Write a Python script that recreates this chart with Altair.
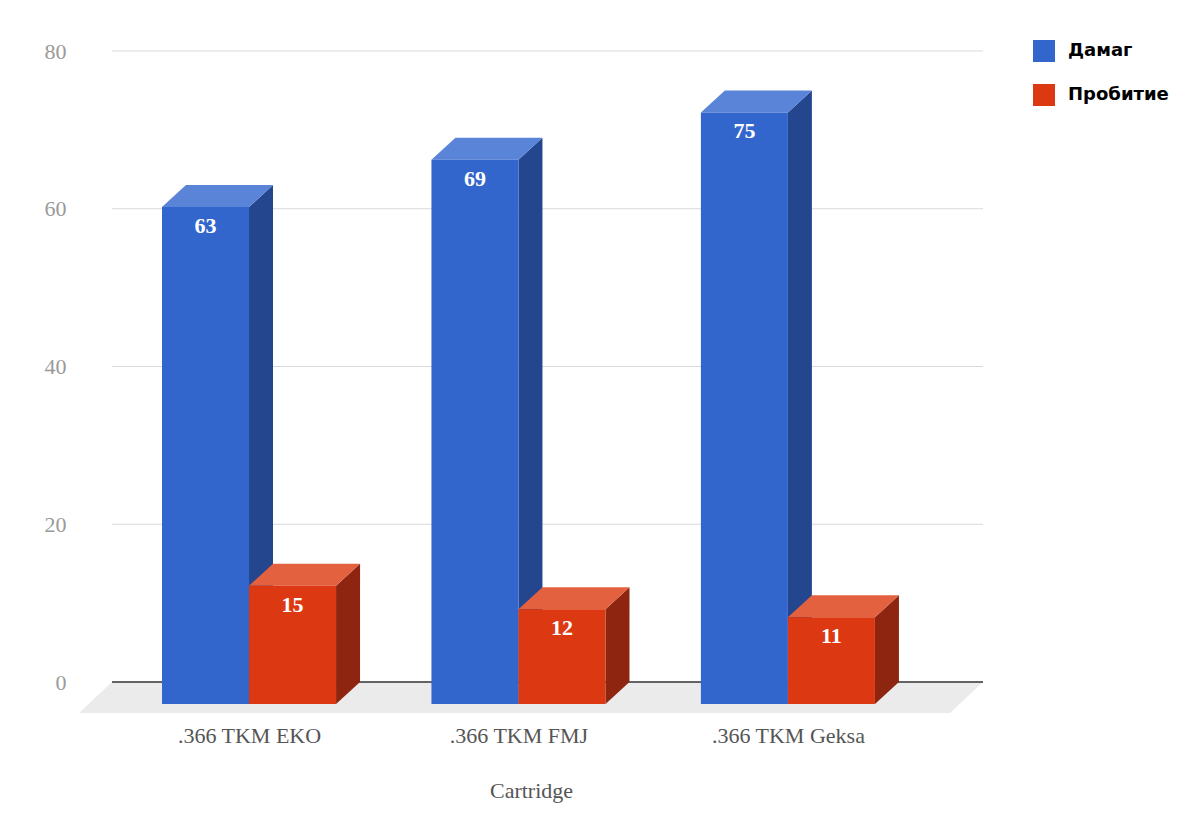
import json
import altair as alt
import pandas as pd

# ---------------- data ----------------
categories = [".366 TKM EKO", ".366 TKM FMJ", ".366 TKM Geksa"]
series = ["Дамаг", "Пробитие"]
damage = [63, 69, 75]
penetration = [15, 12, 11]
y_ticks = [0, 20, 40, 60, 80]
grid_ticks = [20, 40, 60, 80]

# ---------------- style ----------------
FRONT = ["#3366cc", "#dc3912"]
TOP = ["#5a84d8", "#e3613f"]
SIDE = ["#23468f", "#8d2510"]
FLOOR = "#ebebeb"
SERIF = "Liberation Serif"

# 3D geometry (x in group units, y in value units)
BAR_W = 0.323
DX, DY = 0.089, 2.79          # bar depth
FDX = 0.1225                  # floor depth (x)
XMIN, XMAX = -0.631, 2.724
YMIN, YMAX = -3.93, 80

values_by_series = [damage, penetration]

side_rows, top_rows, front_rows = [], [], []
for i, cat in enumerate(categories):
    for j, s in enumerate(series):
        v = values_by_series[j][i]
        a = i - BAR_W if j == 0 else i
        b = a + BAR_W
        bid = f"{cat}-{s}"
        side_rows += [
            {"bar": bid, "x": b, "y": v - DY, "y2": -DY, "c": SIDE[j]},
            {"bar": bid, "x": b + DX, "y": v, "y2": 0, "c": SIDE[j]},
        ]
        top_rows += [
            {"bar": bid, "y": v - DY, "x": a, "x2": b, "c": TOP[j]},
            {"bar": bid, "y": v, "x": a + DX, "x2": b + DX, "c": TOP[j]},
        ]
        front_rows.append({"bar": bid, "series": s, "x": a, "x2": b, "y": -DY,
                           "y2": v - DY, "xc": (a + b) / 2, "label": str(v)})

side_df = pd.DataFrame(side_rows)
top_df = pd.DataFrame(top_rows)
front_df = pd.DataFrame(front_rows)
floor_df = pd.DataFrame([
    {"y": YMIN, "x": XMIN, "x2": XMAX - FDX},
    {"y": 0, "x": XMIN + FDX, "x2": XMAX},
])
grid_df = pd.DataFrame({"v": grid_ticks, "x": XMIN + FDX, "x2": XMAX})
zero_df = pd.DataFrame({"v": [0], "x": [XMIN + FDX], "x2": [XMAX]})

xs = alt.Scale(domain=[XMIN, XMAX], nice=False, zero=False)
ys = alt.Scale(domain=[YMIN, YMAX], nice=False, zero=False)

ax = alt.Axis(values=[0, 1, 2], labelExpr=json.dumps(categories) + "[datum.value]",
              title="Cartridge", grid=False, domain=False, ticks=False,
              labelPadding=12, labelFont=SERIF, labelFontSize=22, labelColor="#555555",
              titleFont=SERIF, titleFontSize=22, titleFontWeight="normal",
              titleColor="#555555", titlePadding=34, labelFlush=False)
ay = alt.Axis(values=y_ticks, title=None, grid=False, domain=False, ticks=False,
              labelPadding=13, labelFont=SERIF, labelFontSize=22, labelColor="#999999")


def X(f):
    return alt.X(f, type="quantitative", scale=xs, axis=ax)


def Y(f):
    return alt.Y(f, type="quantitative", scale=ys, axis=ay)


floor = alt.Chart(floor_df).mark_area(orient="horizontal", color=FLOOR).encode(
    y=Y("y"), x=X("x"), x2="x2")

grid = alt.Chart(grid_df).mark_rule(color="#d9d9d9", strokeWidth=1).encode(
    y=Y("v"), x=X("x"), x2="x2")

zero = alt.Chart(zero_df).mark_rule(color="#333333", strokeWidth=1.5).encode(
    y=Y("v"), x=X("x"), x2="x2")

sides = alt.Chart(side_df).mark_area(orient="vertical").encode(
    x=X("x"), y=Y("y"), y2="y2", detail="bar:N",
    fill=alt.Fill("c:N", scale=None, legend=None))

tops = alt.Chart(top_df).mark_area(orient="horizontal").encode(
    y=Y("y"), x=X("x"), x2="x2", detail="bar:N",
    fill=alt.Fill("c:N", scale=None, legend=None))

fronts = alt.Chart(front_df).mark_rect().encode(
    x=X("x"), x2="x2", y=Y("y"), y2="y2",
    color=alt.Color("series:N", scale=alt.Scale(domain=series, range=FRONT),
                    legend=alt.Legend(title=None, orient="none", legendX=954, legendY=-11,
                                      symbolType="square", symbolSize=484,
                                      symbolStrokeWidth=0, symbolOpacity=1,
                                      labelFont="Comic Sans MS, DejaVu Sans",
                                      labelFontSize=18, labelFontWeight="bold",
                                      labelColor="#000000", labelOffset=13,
                                      rowPadding=22, padding=0)))

labels = alt.Chart(front_df).mark_text(color="white", font=SERIF, fontSize=22,
                                       fontWeight="bold", dy=19, baseline="middle").encode(
    x=X("xc"), y=Y("y2"), text="label:N")

chart = alt.layer(floor, grid, zero, sides, tops, fronts, labels).properties(
    width=904, height=662,
    background="white",
    autosize=alt.AutoSizeParams(type="none"),
    padding={"left": 71, "top": 43, "right": 200, "bottom": 100},
).configure_view(stroke=None)

chart.save("out.html", embed_options={"renderer": "svg", "actions": False})
